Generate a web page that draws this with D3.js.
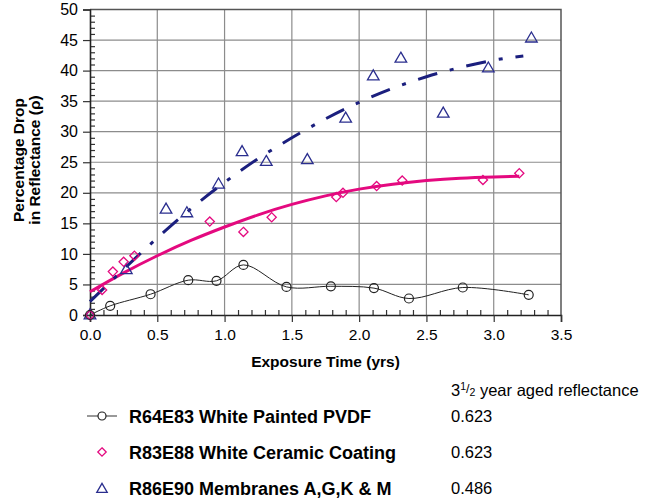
<!DOCTYPE html>
<html><head><meta charset="utf-8">
<script src="https://cdn.jsdelivr.net/npm/d3@7/dist/d3.min.js"></script>
<style>
body{margin:0;background:#fff;}
text{font-family:"Liberation Sans",Arial,sans-serif;fill:#000;}
</style></head>
<body><svg id="c" width="652" height="498"></svg>
<script>
// ---- data ----
const xTickValues = [0,0.5,1.0,1.5,2.0,2.5,3.0,3.5];
const yTickValues = [0,5,10,15,20,25,30,35,40,45,50];

const pvdfX = [0,0.15,0.45,0.73,0.94,1.14,1.46,1.79,2.11,2.37,2.77,3.26];
const pvdfY = [0,1.5,3.4,5.7,5.6,8.2,4.6,4.7,4.4,2.7,4.5,3.3];

const ceramicX = [0,0.09,0.17,0.25,0.33,0.89,1.14,1.35,1.83,1.88,2.13,2.32,2.92,3.19];
const ceramicY = [0,4.1,7.1,8.7,9.7,15.3,13.6,16.0,19.3,20.0,21.1,22.0,22.1,23.2];

const membX = [0,0.27,0.565,0.72,0.955,1.13,1.31,1.615,1.90,2.105,2.31,2.625,2.96,3.28];
const membY = [0,7.4,17.3,16.7,21.4,26.7,25.1,25.4,32.2,39.1,42.0,33.0,40.4,45.3];

// trend lines
const ceramicTrendX = [0,0.25,0.5,0.75,1.0,1.25,1.5,1.75,2.0,2.25,2.5,2.75,3.0,3.19];
const ceramicTrendY = [3.8,6.9,9.7,12.2,14.4,16.4,18.1,19.5,20.6,21.4,22.0,22.4,22.6,22.7];
const membTrendX = [0,0.25,0.5,0.75,1.0,1.25,1.5,1.75,2.0,2.25,2.5,2.75,3.0,3.22];
const membTrendY = [2.2,7.5,12.6,17.4,21.7,25.6,29.0,32.1,34.8,37.1,39.0,40.5,41.7,42.4];

const legendNames = ["R64E83 White Painted PVDF","R83E88 White Ceramic Coating","R86E90 Membranes A,G,K & M"];
const legendValues = ["0.623","0.623","0.486"];

// ---- drawing ----
const svg = d3.select("#c");
const x = d3.scaleLinear([0,3.5],[90,561]);
const y = d3.scaleLinear([0,50],[315,9.5]);
const magenta = "#e4097f", navy = "#1b1f7e", navyM = "#2a2e8e";

// grid
const g = svg.append("g");
g.selectAll(".vg").data(xTickValues.slice(1,-1)).join("line")
  .attr("x1",d=>x(d)).attr("x2",d=>x(d)).attr("y1",y(0)).attr("y2",y(50))
  .attr("stroke","#8c8c8c").attr("stroke-width",1.2);
g.selectAll(".hg").data(yTickValues.slice(1,-1)).join("line")
  .attr("y1",d=>y(d)).attr("y2",d=>y(d)).attr("x1",x(0)).attr("x2",x(3.5))
  .attr("stroke","#8c8c8c").attr("stroke-width",1.2);
// frame top/right
g.append("path").attr("d",`M${x(0)},${y(50)}H${x(3.5)}V${y(0)}`)
  .attr("fill","none").attr("stroke","#555").attr("stroke-width",1.5);

// minor ticks
const yMinor = d3.range(0,51,1).filter(v=>v%5!==0);
const xMinor = d3.range(0,36,1).map(v=>v/10).filter((v,i)=>i%5!==0);
svg.append("g").attr("transform",`translate(${x(0)},0)`)
  .call(d3.axisLeft(y).tickValues(yMinor).tickSize(-5).tickFormat(""))
  .call(s=>{s.select(".domain").remove();s.selectAll("line").attr("stroke","#333").attr("stroke-width",1.2);});
svg.append("g").attr("transform",`translate(0,${y(0)})`)
  .call(d3.axisBottom(x).tickValues(xMinor).tickSize(-5).tickFormat(""))
  .call(s=>{s.select(".domain").remove();s.selectAll("line").attr("stroke","#333").attr("stroke-width",1.2);});

// major axes
const yAxis = svg.append("g").attr("transform",`translate(${x(0)},0)`)
  .call(d3.axisLeft(y).tickValues(yTickValues).tickSize(7).tickPadding(5).tickFormat(d3.format("d")));
const xAxis = svg.append("g").attr("transform",`translate(0,${y(0)})`)
  .call(d3.axisBottom(x).tickValues(xTickValues).tickSize(7).tickPadding(7).tickFormat(d3.format(".1f")));
[yAxis,xAxis].forEach((a,i)=>{
  a.select(".domain").attr("stroke","#222").attr("stroke-width",1.6);
  a.selectAll(".tick line").attr("stroke","#333").attr("stroke-width",1.2);
  a.selectAll(".tick text").attr("font-size",i===0?16:15.5).attr("fill","#000")
   .style("font-family","'Liberation Sans',Arial,sans-serif");
});

// trend lines
const lineGen = d3.line().x(d=>x(d[0])).y(d=>y(d[1]));
svg.append("path").datum(ceramicTrendX.map((v,i)=>[v,ceramicTrendY[i]]))
  .attr("d",lineGen.curve(d3.curveNatural)).attr("fill","none")
  .attr("stroke",magenta).attr("stroke-width",3);
svg.append("path").datum(membTrendX.map((v,i)=>[v,membTrendY[i]]))
  .attr("d",lineGen.curve(d3.curveNatural)).attr("fill","none")
  .attr("stroke",navy).attr("stroke-width",3).attr("stroke-dasharray","20,13,4,13");

// PVDF connecting line
svg.append("path").datum(pvdfX.map((v,i)=>[v,pvdfY[i]]))
  .attr("d",d3.line().x(d=>x(d[0])).y(d=>y(d[1])).curve(d3.curveCatmullRom.alpha(0.5)))
  .attr("fill","none").attr("stroke","#222").attr("stroke-width",1);

// markers
const triPath = (s)=>`M0,${-s*0.62}L${s*0.58},${s*0.38}L${-s*0.58},${s*0.38}Z`;
const diaPath = (s)=>`M0,${-s}L${s},0L0,${s}L${-s},0Z`;
svg.append("g").selectAll("path").data(membX.map((v,i)=>[v,membY[i]])).join("path")
  .attr("transform",d=>`translate(${x(d[0])},${y(d[1])})`).attr("d",triPath(10))
  .attr("fill","none").attr("stroke",navyM).attr("stroke-width",1.3);
svg.append("g").selectAll("path").data(ceramicX.map((v,i)=>[v,ceramicY[i]])).join("path")
  .attr("transform",d=>`translate(${x(d[0])},${y(d[1])})`).attr("d",diaPath(4.6))
  .attr("fill","none").attr("stroke",magenta).attr("stroke-width",1.3);
svg.append("g").selectAll("circle").data(pvdfX.map((v,i)=>[v,pvdfY[i]])).join("circle")
  .attr("cx",d=>x(d[0])).attr("cy",d=>y(d[1])).attr("r",4.5)
  .attr("fill","none").attr("stroke","#222").attr("stroke-width",1.2);

// axis titles
svg.append("text").attr("x",(x(0)+x(3.5))/2).attr("y",367).attr("text-anchor","middle")
  .attr("font-size",15.5).attr("font-weight","bold").text("Exposure Time (yrs)");
const yt = svg.append("text").attr("transform","translate(0,160) rotate(-90)")
  .attr("text-anchor","middle").attr("font-size",15.5).attr("font-weight","bold");
yt.append("tspan").attr("x",0).attr("y",23.5).text("Percentage Drop");
yt.append("tspan").attr("x",0).attr("y",40).text("in Reflectance (ρ)");

// legend
const rows = [416,452,488];
const hdr = svg.append("text").attr("x",451).attr("y",396).attr("font-size",16.5);
hdr.append("tspan").text("3");
hdr.append("tspan").attr("font-size",10.5).attr("dy",-6).text("1");
hdr.append("tspan").attr("font-size",12.5).attr("dy",3).text("/");
hdr.append("tspan").attr("font-size",10.5).attr("dy",3).text("2");
hdr.append("tspan").attr("dy",0).text(" year aged reflectance");

legendNames.forEach((n,i)=>{
  svg.append("text").attr("x",129).attr("y",rows[i]+6.5).attr("font-size",18)
    .attr("font-weight","bold").text(n);
  svg.append("text").attr("x",451).attr("y",rows[i]+6).attr("font-size",16.5).text(legendValues[i]);
});
svg.append("line").attr("x1",87).attr("x2",117).attr("y1",rows[0]).attr("y2",rows[0])
  .attr("stroke","#555").attr("stroke-width",1.2);
svg.append("circle").attr("cx",102).attr("cy",rows[0]).attr("r",4)
  .attr("fill","#fff").attr("stroke","#222").attr("stroke-width",1.2);
svg.append("path").attr("transform",`translate(102,${rows[1]})`).attr("d",diaPath(4.2))
  .attr("fill","none").attr("stroke",magenta).attr("stroke-width",1.3);
svg.append("path").attr("transform",`translate(102,${rows[2]+1})`).attr("d",triPath(9))
  .attr("fill","none").attr("stroke",navyM).attr("stroke-width",1.3);
</script></body></html>
